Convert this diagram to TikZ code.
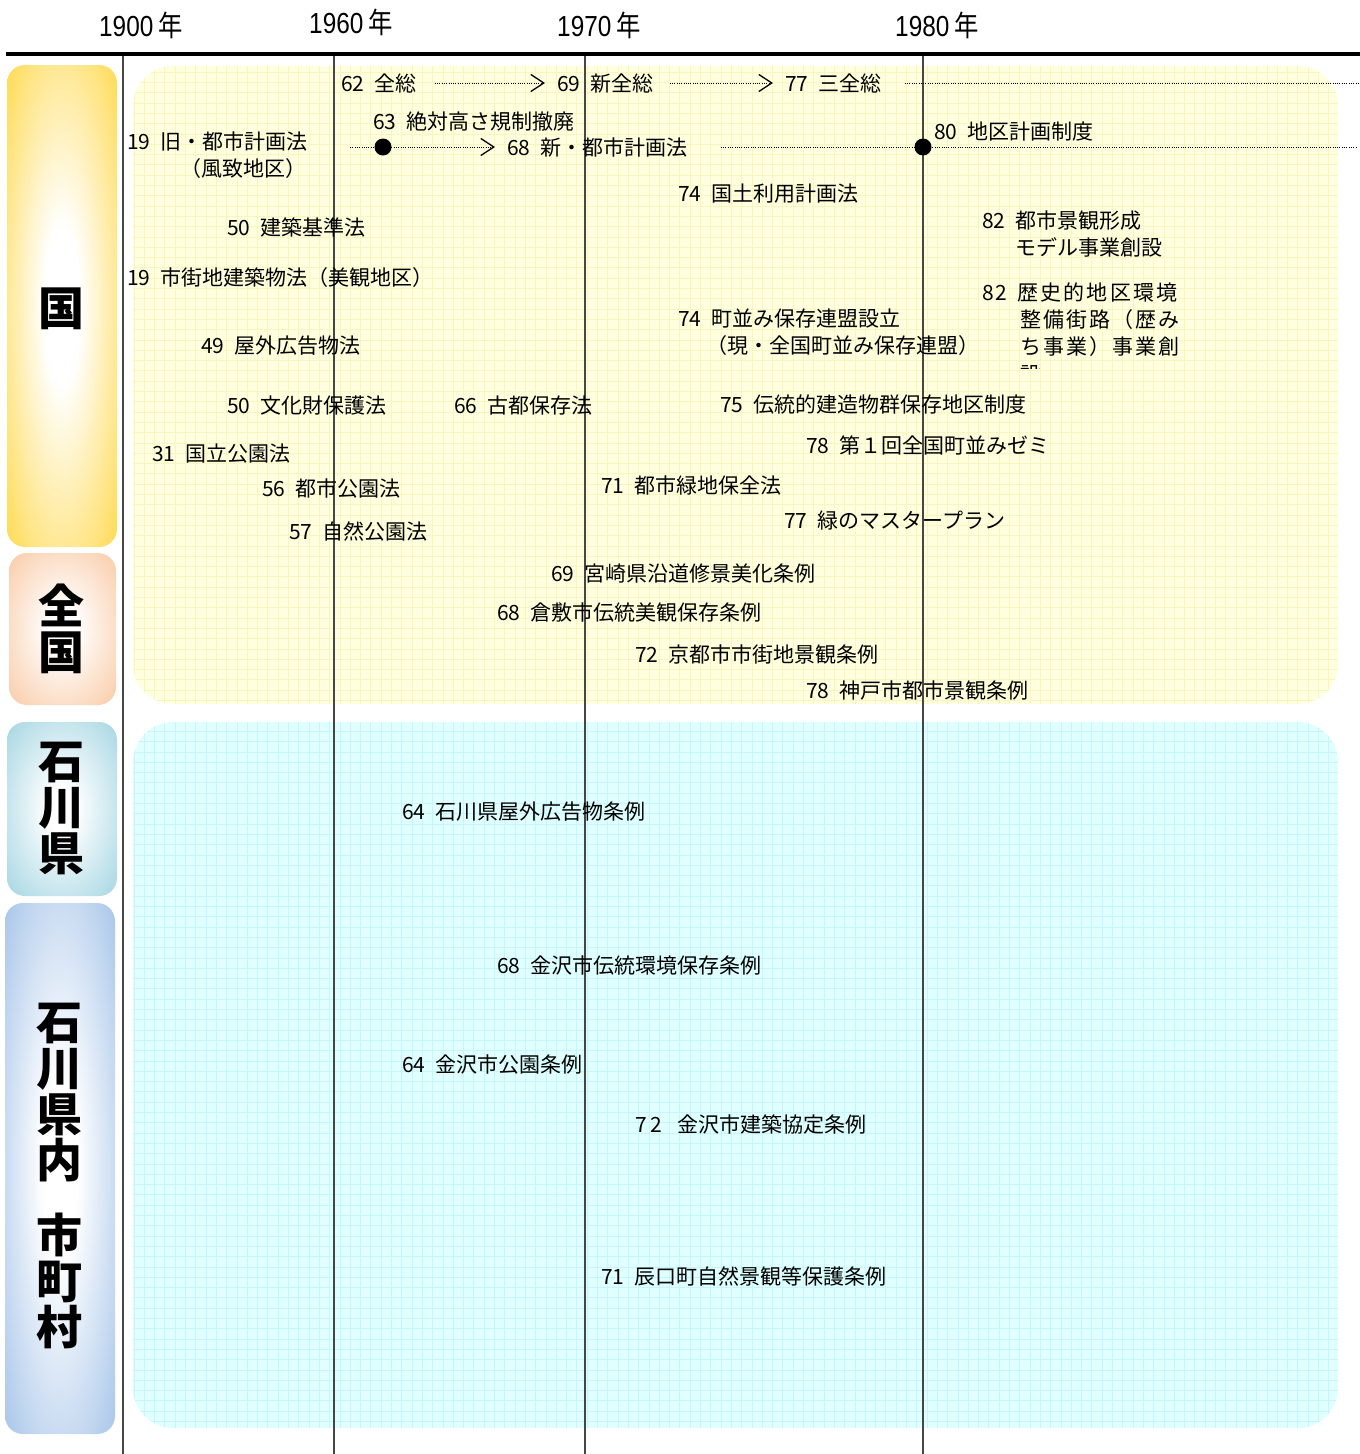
\documentclass[tikz,border=0pt]{standalone}
\usepackage{fontspec}
\usetikzlibrary{arrows.meta}
\setmainfont{Noto Sans CJK JP}
\newfontfamily\jpwide{Noto Sans CJK JP}[LetterSpace=10]
\newfontfamily\latinyr{Liberation Sans}
\newcommand{\gap}{\hspace{10pt}}
\newcommand{\yrtxt}[1]{{\latinyr #1}\hspace{6pt}年}
\definecolor{cgold}{RGB}{255,204,17}
\definecolor{cpeach}{RGB}{248,192,148}
\definecolor{cteal}{RGB}{146,205,220}
\definecolor{cblue}{RGB}{142,180,227}
\definecolor{ylfill}{RGB}{255,255,224}
\definecolor{ylgrid}{RGB}{246,246,190}
\definecolor{cyfill}{RGB}{224,255,255}
\definecolor{cygrid}{RGB}{198,246,252}
\definecolor{vgray}{RGB}{70,70,70}
\pgfdeclareradialshading{shgold}{\pgfpointorigin}{color(0bp)=(white); color(8bp)=(white); color(46bp)=(cgold); color(72bp)=(cgold)}
\pgfdeclareradialshading{shpeach}{\pgfpointorigin}{color(0bp)=(white); color(6bp)=(white); color(42bp)=(cpeach); color(72bp)=(cpeach)}
\pgfdeclareradialshading{shteal}{\pgfpointorigin}{color(0bp)=(white); color(6bp)=(white); color(42bp)=(cteal); color(72bp)=(cteal)}
\pgfdeclareradialshading{shblue}{\pgfpointorigin}{color(0bp)=(white); color(8bp)=(white); color(44bp)=(cblue); color(72bp)=(cblue)}
\tikzset{
  lbl/.style={anchor=west, inner sep=0pt, text height=19pt, text depth=3pt,
    font=\fontsize{21}{24}\selectfont},
  yr/.style={inner sep=0pt, xscale=0.84, transform shape, font=\fontsize{29}{30}\selectfont},
  cat/.style={inner sep=0pt, align=center, font=\bfseries\fontsize{46}{46}\selectfont},
  vline/.style={draw=vgray, line width=1.1pt},
  dotline/.style={line width=1pt, dash pattern=on 1pt off 1.3pt},
  dotarrow/.style={dotline, -{Straight Barb[length=13pt,width=17pt,line width=1.3pt]}},
  bigdot/.style={circle, fill=black, minimum size=17pt, inner sep=0pt},
}
\begin{document}
\begin{tikzpicture}[x=1pt,y=-1pt]
\useasboundingbox (0,0) rectangle (1360,1454);
\fill[white] (0,0) rectangle (1360,1454);
% panels
\begin{scope}
  \clip[rounded corners=40pt] (133,66) rectangle (1338,704);
  \fill[ylfill] (133,66) rectangle (1338,704);
  \draw[ylgrid, line width=0.8pt] (133,66) grid[step=10.3pt] (1338,704);
\end{scope}
\begin{scope}
  \clip[rounded corners=40pt] (133,722) rectangle (1338,1428);
  \fill[cyfill] (133,722) rectangle (1338,1428);
  \draw[cygrid, line width=0.8pt] (133,722) grid[step=10.3pt] (1338,1428);
\end{scope}
% category boxes
\shade[shading=shgold, rounded corners=18pt] (7,65) rectangle (117,547);
\shade[shading=shpeach, rounded corners=18pt] (9,553) rectangle (116,705);
\shade[shading=shteal, rounded corners=18pt] (7,722) rectangle (117,896);
\shade[shading=shblue, rounded corners=18pt] (5,903) rectangle (115,1434);
\node[cat] (ckuni) at (61,309) {国};
\node[cat] (czenkoku) at (61,629) {全\\国};
\node[cat] (cken) at (61,808) {石\\川\\県};
\node[cat] (cshi) at (59,1176) {石\\川\\県\\内\\[29pt]市\\町\\村};
% axis
\draw[line width=4pt] (6,54) -- (1360,54);
\draw[vline] (123,56) -- (123,1454);
\draw[vline] (334,56) -- (334,1454);
\draw[vline] (585,56) -- (585,1454);
\draw[vline] (923,56) -- (923,1454);
% years
\node[yr] (y1900) at (141,25) {\yrtxt{1900}};
\node[yr] (y1960) at (351,22) {\yrtxt{1960}};
\node[yr] (y1970) at (599,25) {\yrtxt{1970}};
\node[yr] (y1980) at (937,25) {\yrtxt{1980}};
% national items
\node[lbl] (n62) at (341,83) {62\gap 全総};
\node[lbl] (n69) at (557,83) {69\gap 新全総};
\node[lbl] (n77) at (785,83) {77\gap 三全総};
\coordinate (e77) at (1360,83);
\node[lbl] (n63) at (373,121) {63\gap 絶対高さ規制撤廃};
\node[lbl] (n68) at (507,147) {68\gap 新・都市計画法};
\node[lbl] (n80) at (934,131) {80\gap 地区計画制度};
\coordinate (s63) at (350,147);
\node[bigdot] (d63) at (383,147) {};
\node[bigdot] (d80) at (923,147) {};
\coordinate (e80) at (1356,147);
\draw[dotarrow] ([xshift=18pt]n62.east) -- ([xshift=-12pt]n69.west);
\draw[dotarrow] ([xshift=16pt]n69.east) -- ([xshift=-12pt]n77.west);
\draw[dotline] ([xshift=23pt]n77.east) -- (e77);
\draw[dotarrow] (s63) -- (d63.center) -- ([xshift=-12pt]n68.west);
\draw[dotline] ([xshift=33pt]n68.east) -- (d80.center) -- (e80);
\node[lbl] (n19a) at (127,141) {19\gap 旧・都市計画法};
\node[lbl] (n19b) at (180,168) {（風致地区）};
\node[lbl] (n74a) at (678,193) {74\gap 国土利用計画法};
\node[lbl] (n50a) at (227,227) {50\gap 建築基準法};
\node[lbl] (n82a) at (982,220) {82\gap 都市景観形成};
\node[lbl] (n82b) at (1015,247) {モデル事業創設};
\node[lbl] (n19c) at (127,277) {19\gap 市街地建築物法（美観地区）};
\node[lbl, font=\jpwide\fontsize{21}{24}\selectfont] (n82c) at (982,292) {82\gap 歴史的地区環境};
\node[lbl, font=\jpwide\fontsize{21}{24}\selectfont] (n82d) at (1020,319) {整備街路（歴み};
\node[lbl, font=\jpwide\fontsize{21}{24}\selectfont] (n82e) at (1020,346) {ち事業）事業創};
\begin{scope}
  \clip (1000,360) rectangle (1100,368);
  \node[lbl, font=\jpwide\fontsize{21}{24}\selectfont] (n82f) at (1020,374) {設};
\end{scope}
\node[lbl] (n74b) at (678,318) {74\gap 町並み保存連盟設立};
\node[lbl] (n74c) at (706,345) {（現・全国町並み保存連盟）};
\node[lbl] (n49) at (201,345) {49\gap 屋外広告物法};
\node[lbl] (n50b) at (227,405) {50\gap 文化財保護法};
\node[lbl] (n66) at (454,405) {66\gap 古都保存法};
\node[lbl] (n75) at (720,404) {75\gap 伝統的建造物群保存地区制度};
\node[lbl] (n78a) at (806,445) {78\gap 第１回全国町並みゼミ};
\node[lbl] (n31) at (152,453) {31\gap 国立公園法};
\node[lbl] (n56) at (262,488) {56\gap 都市公園法};
\node[lbl] (n71a) at (601,485) {71\gap 都市緑地保全法};
\node[lbl] (n77b) at (784,520) {77\gap 緑のマスタープラン};
\node[lbl] (n57) at (289,531) {57\gap 自然公園法};
\node[lbl] (n69b) at (551,573) {69\gap 宮崎県沿道修景美化条例};
\node[lbl] (n68b) at (497,612) {68\gap 倉敷市伝統美観保存条例};
\node[lbl] (n72a) at (635,654) {72\gap 京都市市街地景観条例};
\node[lbl] (n78b) at (806,690) {78\gap 神戸市都市景観条例};
% Ishikawa items
\node[lbl] (n64a) at (402,811) {64\gap 石川県屋外広告物条例};
\node[lbl] (n68c) at (497,965) {68\gap 金沢市伝統環境保存条例};
\node[lbl] (n64b) at (402,1064) {64\gap 金沢市公園条例};
\node[lbl] (n72b) at (635,1124) {7\kern4pt 2\hspace{15pt}金沢市建築協定条例};
\node[lbl] (n71b) at (601,1276) {71\gap 辰口町自然景観等保護条例};
\end{tikzpicture}
\end{document}
